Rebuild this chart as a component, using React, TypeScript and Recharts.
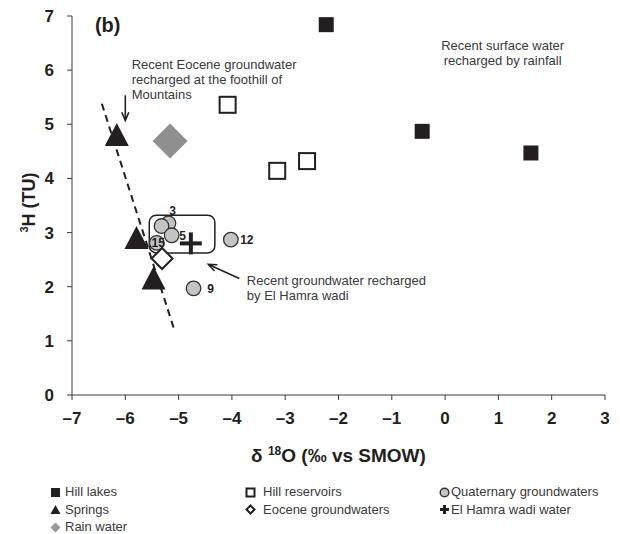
import { ScatterChart, Scatter, XAxis, YAxis, ReferenceLine, ReferenceArea, ReferenceDot } from 'recharts';

const FONT = '"Liberation Sans", Arial, Helvetica, sans-serif';
const INK = '#231f20';
const TEXT = '#3a3a3a';

// δ18O (x, ‰ vs SMOW) against 3H (y, TU) for each water group
const hillLakes = [
  { x: -2.23, y: 6.84 },
  { x: -0.43, y: 4.87 },
  { x: 1.61, y: 4.47 },
];
const hillReservoirs = [
  { x: -4.08, y: 5.36 },
  { x: -3.15, y: 4.14 },
  { x: -2.59, y: 4.32 },
];
const springs = [
  { x: -6.16, y: 4.8 },
  { x: -5.79, y: 2.9 },
  { x: -5.47, y: 2.15 },
];
const rainWater = [{ x: -5.16, y: 4.69 }];
const quaternaryGw = [
  { x: -5.19, y: 3.17, label: '3' },
  { x: -5.32, y: 3.12, label: '' },
  { x: -5.13, y: 2.95, label: '5' },
  { x: -5.41, y: 2.81, label: '15' },
  { x: -4.02, y: 2.87, label: '12' },
  { x: -4.72, y: 1.97, label: '9' },
];
const eoceneGw = [{ x: -5.31, y: 2.52 }];
const elHamraWadi = [{ x: -4.77, y: 2.8 }];

const xTicks = [-7, -6, -5, -4, -3, -2, -1, 0, 1, 2, 3];
const yTicks = [0, 1, 2, 3, 4, 5, 6, 7];

// sample-number label offsets (px) from their circle
const labelOffset: Record<string, [number, number]> = {
  '3': [4, -13],
  '5': [11, 0],
  '15': [1.5, 0],
  '12': [16, 0],
  '9': [17, 0],
};

// trend line of the springs, and the grouping box around El Hamra samples
const trendLine = [{ x: -6.44, y: 5.38 }, { x: -5.07, y: 1.17 }];
const wadiBox = { x1: -5.55, x2: -4.32, y1: 2.625, y2: 3.32 };

const notes = [
  { x: -5.88, y: 6.03, anchor: 'start', lines: ['Recent Eocene groundwater', 'recharged at the foothill of', 'Mountains'] },
  { x: 1.08, y: 6.365, anchor: 'middle', lines: ['Recent surface water', 'recharged by rainfall'] },
  { x: -3.72, y: 2.03, anchor: 'start', lines: ['Recent groundwater recharged', 'by El Hamra wadi'] },
];
const arrows = [
  [{ x: -6.0, y: 5.535 }, { x: -6.0, y: 5.07 }],
  [{ x: -3.86, y: 2.153 }, { x: -4.44, y: 2.411 }],
];

const shapes = {
  hillLake: (p: any) => <rect x={p.cx - 7.5} y={p.cy - 7.5} width={15} height={15} fill={INK} />,
  hillReservoir: (p: any) => (
    <rect x={p.cx - 8} y={p.cy - 8} width={16} height={16} fill="#fff" stroke={INK} strokeWidth={2} />
  ),
  spring: (p: any) => (
    <polygon points={`${p.cx},${p.cy - 12} ${p.cx + 12},${p.cy + 11} ${p.cx - 12},${p.cy + 11}`} fill={INK} />
  ),
  rain: (p: any) => (
    <polygon points={`${p.cx},${p.cy - 17.5} ${p.cx + 17.5},${p.cy} ${p.cx},${p.cy + 17.5} ${p.cx - 17.5},${p.cy}`} fill="#8f8f8f" />
  ),
  quaternary: (p: any) => <circle cx={p.cx} cy={p.cy} r={7.3} fill="#c4c4c4" stroke="#333" strokeWidth={1.3} />,
  eocene: (p: any) => (
    <polygon points={`${p.cx},${p.cy - 10.5} ${p.cx + 10.5},${p.cy} ${p.cx},${p.cy + 10.5} ${p.cx - 10.5},${p.cy}`} fill="#fff" stroke={INK} strokeWidth={2} />
  ),
  wadi: (p: any) => (
    <g fill={INK}>
      <rect x={p.cx - 11} y={p.cy - 2} width={22} height={4} />
      <rect x={p.cx - 2} y={p.cy - 11} width={4} height={22} />
    </g>
  ),
};

const legendItems = [
  { name: 'Hill lakes', icon: 'hillLake', col: 0, row: 0 },
  { name: 'Hill reservoirs', icon: 'hillReservoir', col: 1, row: 0 },
  { name: 'Quaternary groundwaters', icon: 'quaternary', col: 2, row: 0 },
  { name: 'Springs', icon: 'spring', col: 0, row: 1 },
  { name: 'Eocene groundwaters', icon: 'eocene', col: 1, row: 1 },
  { name: 'El Hamra wadi water', icon: 'wadi', col: 2, row: 1 },
  { name: 'Rain water', icon: 'rain', col: 0, row: 2 },
];

function LegendIcon({ kind }: { kind: string }) {
  let el;
  if (kind === 'hillLake') el = <rect x={1} y={1} width={9} height={9} fill={INK} />;
  else if (kind === 'hillReservoir') el = <rect x={1.5} y={1.5} width={8} height={8} fill="#fff" stroke={INK} strokeWidth={2} />;
  else if (kind === 'spring') el = <polygon points="5.5,1 10.5,10 0.5,10" fill={INK} />;
  else if (kind === 'rain') el = <polygon points="5.5,0.5 10.5,5.5 5.5,10.5 0.5,5.5" fill="#9a9a9a" />;
  else if (kind === 'quaternary') el = <circle cx={5.5} cy={5.5} r={4.3} fill="#c4c4c4" stroke="#333" strokeWidth={1.4} />;
  else if (kind === 'eocene') el = <polygon points="5.5,1.5 9.5,5.5 5.5,9.5 1.5,5.5" fill="#fff" stroke={INK} strokeWidth={2} />;
  else el = (
    <g fill={INK}>
      <rect x={1} y={4} width={9} height={3} />
      <rect x={4} y={1} width={3} height={9} />
    </g>
  );
  return <svg width={11} height={11} style={{ display: 'block' }}>{el}</svg>;
}

const colIcon = [50, 245, 439];
const colText = [65, 263, 451];
const rowY = [492, 509.5, 527];

function ArrowShape(p: any) {
  const { x1, y1, x2, y2 } = p;
  const a = Math.atan2(y2 - y1, x2 - x1);
  const h = 9;
  const s = 0.4;
  const ax = x2 - h * Math.cos(a - s);
  const ay = y2 - h * Math.sin(a - s);
  const bx = x2 - h * Math.cos(a + s);
  const by = y2 - h * Math.sin(a + s);
  return (
    <g stroke={INK} strokeWidth={1.6} fill="none">
      <line x1={x1} y1={y1} x2={x2} y2={y2} />
      <polyline points={`${ax},${ay} ${x2},${y2} ${bx},${by}`} />
    </g>
  );
}

const tickStyle = { fill: INK, fontSize: 17, fontWeight: 700, fontFamily: FONT };
const fmtX = (v: number) => (v < 0 ? `\u2013${-v}` : `${v}`);

export default function App() {
  return (
    <div style={{ position: 'absolute', left: 0, top: 0, width: 620, height: 534, background: '#fff', fontFamily: FONT }}>
      <ScatterChart width={620} height={534} margin={{ top: 16, right: 15, bottom: 64, left: 0 }}>
        <XAxis
          type="number"
          dataKey="x"
          domain={[-7, 3]}
          ticks={xTicks}
          tickFormatter={fmtX}
          allowDataOverflow
          height={75}
          stroke="#3a3a3a"
          tickSize={5}
          tickMargin={12}
          tick={tickStyle}
          label={{
            content: (props: any) => {
              const vb = props.viewBox;
              const cx = vb.x + vb.width / 2;
              return (
                <text x={cx} y={vb.y + 67} textAnchor="middle" fill={INK} fontSize={19} fontWeight={700} fontFamily={FONT}>
                  <tspan>δ </tspan>
                  <tspan fontSize={12} dy={-7}>18</tspan>
                  <tspan dy={7}>O (‰ vs SMOW)</tspan>
                </text>
              );
            },
          }}
        />
        <YAxis
          type="number"
          dataKey="y"
          domain={[0, 7]}
          ticks={yTicks}
          allowDataOverflow
          width={72}
          stroke="#3a3a3a"
          tickSize={5}
          tickMargin={13}
          tick={tickStyle}
          label={{
            content: (props: any) => {
              const vb = props.viewBox;
              const x = 35;
              const y = vb.y + vb.height / 2 - 3;
              return (
                <text x={x} y={y} transform={`rotate(-90 ${x} ${y})`} textAnchor="middle" fill={INK} fontSize={18} fontWeight={700} fontFamily={FONT}>
                  <tspan fontSize={11} dy={-7}>3</tspan>
                  <tspan dy={7}>H (TU)</tspan>
                </text>
              );
            },
          }}
        />

        <ReferenceLine
          segment={trendLine}
          ifOverflow="visible"
          stroke={INK}
          strokeWidth={2}
          strokeDasharray="7 5"
        />
        <ReferenceArea
          {...wadiBox}
          ifOverflow="visible"
          shape={(p: any) => (
            <rect x={p.x} y={p.y} width={p.width} height={p.height} rx={7} ry={7} fill="none" stroke={INK} strokeWidth={1.5} />
          )}
        />

        <Scatter name="Hill lakes" data={hillLakes} shape={shapes.hillLake} isAnimationActive={false} />
        <Scatter name="Hill reservoirs" data={hillReservoirs} shape={shapes.hillReservoir} isAnimationActive={false} />
        <Scatter name="Rain water" data={rainWater} shape={shapes.rain} isAnimationActive={false} />
        <Scatter name="Springs" data={springs} shape={shapes.spring} isAnimationActive={false} />
        <Scatter name="Quaternary groundwaters" data={quaternaryGw} shape={shapes.quaternary} isAnimationActive={false} />
        <Scatter name="Eocene groundwaters" data={eoceneGw} shape={shapes.eocene} isAnimationActive={false} />
        <Scatter name="El Hamra wadi water" data={elHamraWadi} shape={shapes.wadi} isAnimationActive={false} />

        {quaternaryGw
          .filter((d) => d.label)
          .map((d) => (
            <ReferenceDot
              key={`lbl-${d.label}`}
              x={d.x}
              y={d.y}
              ifOverflow="visible"
              shape={(p: any) => (
                <text
                  x={p.cx + labelOffset[d.label][0]}
                  y={p.cy + labelOffset[d.label][1]}
                  dy="0.36em"
                  textAnchor="middle"
                  fill={INK}
                  fontSize={12}
                  fontWeight={700}
                  fontFamily={FONT}
                >
                  {d.label}
                </text>
              )}
            />
          ))}

        {arrows.map((seg, i) => (
          <ReferenceLine key={`arrow-${i}`} segment={seg} ifOverflow="visible" shape={ArrowShape} />
        ))}

        {notes.map((n, i) => (
          <ReferenceDot
            key={`note-${i}`}
            x={n.x}
            y={n.y}
            ifOverflow="visible"
            shape={(p: any) => (
              <text x={p.cx} y={p.cy} textAnchor={n.anchor as any} fill={TEXT} fontSize={13} fontFamily={FONT}>
                {n.lines.map((l, j) => (
                  <tspan key={j} x={p.cx} dy={j === 0 ? 0 : 15}>
                    {l}
                  </tspan>
                ))}
              </text>
            )}
          />
        ))}

        <ReferenceDot
          x={-6.57}
          y={6.71}
          ifOverflow="visible"
          shape={(p: any) => (
            <text x={p.cx} y={p.cy} fill={INK} fontSize={20} fontWeight={700} fontFamily={FONT}>
              (b)
            </text>
          )}
        />
      </ScatterChart>

      {legendItems.map((it) => (
        <div key={it.name}>
          <div style={{ position: 'absolute', left: colIcon[it.col], top: rowY[it.row] - 5.5 }}>
            <LegendIcon kind={it.icon} />
          </div>
          <div
            style={{
              position: 'absolute',
              left: colText[it.col],
              top: rowY[it.row] - 8,
              fontSize: 13,
              lineHeight: '16px',
              color: TEXT,
              whiteSpace: 'nowrap',
            }}
          >
            {it.name}
          </div>
        </div>
      ))}
    </div>
  );
}
